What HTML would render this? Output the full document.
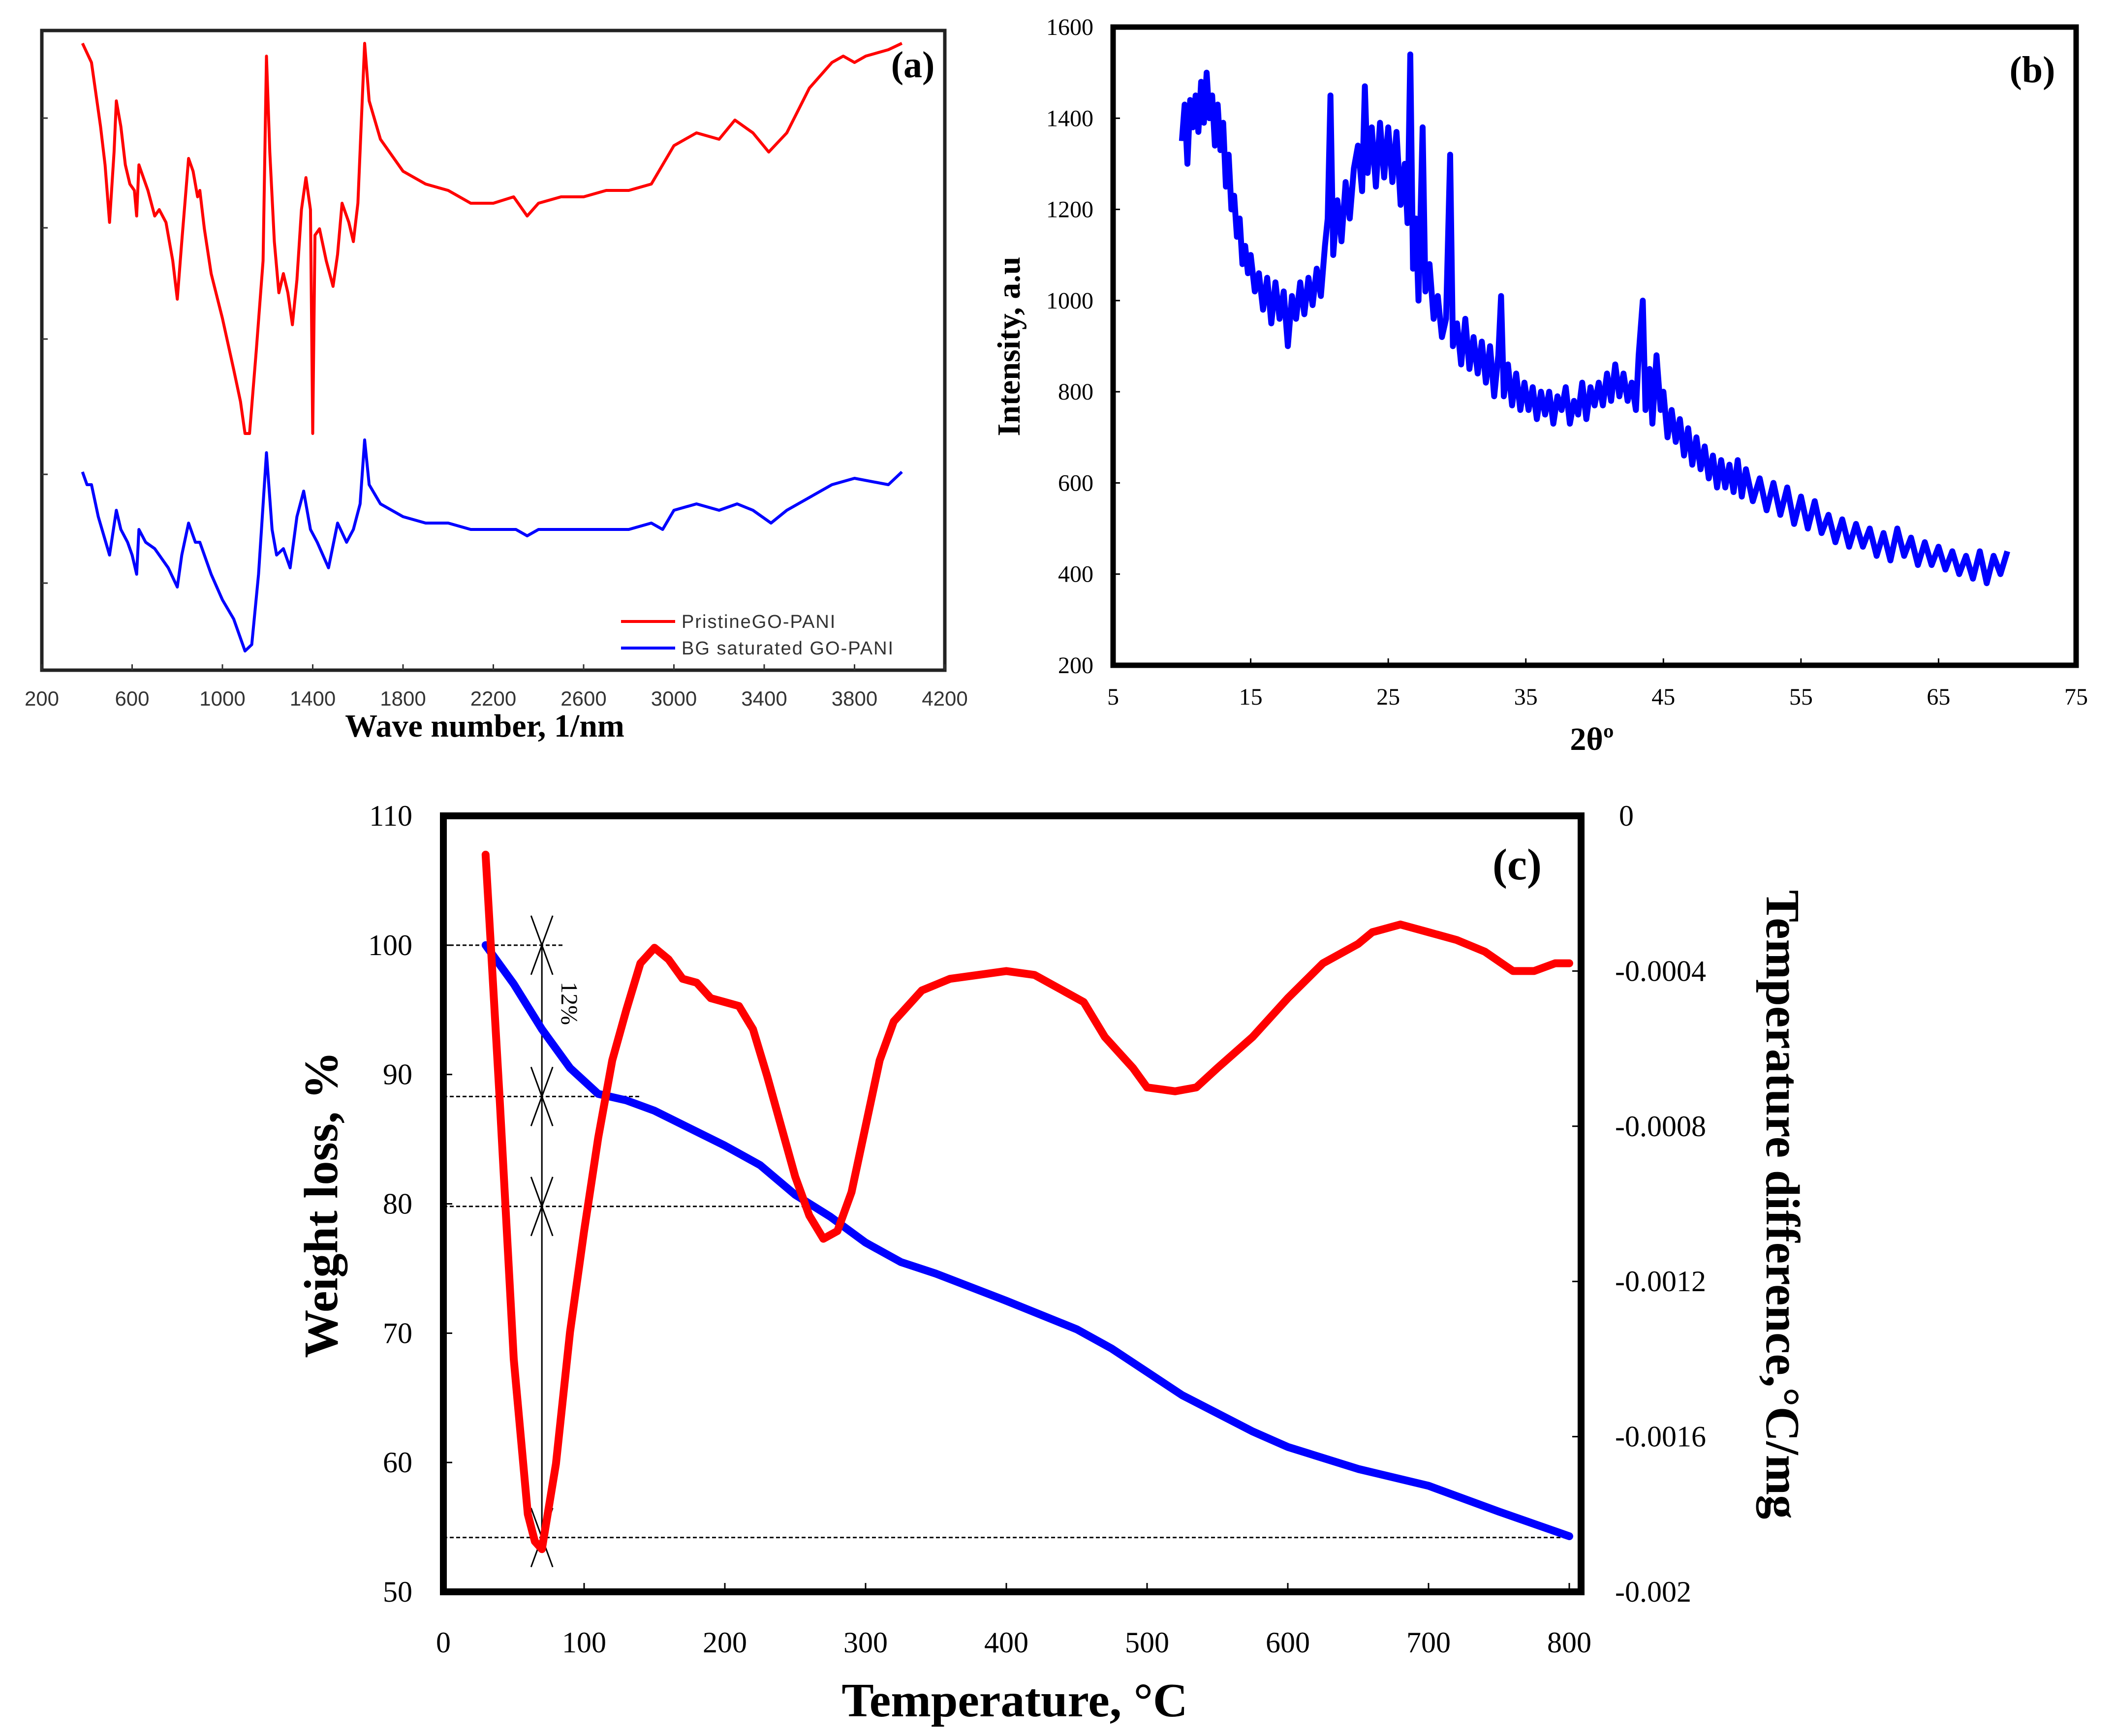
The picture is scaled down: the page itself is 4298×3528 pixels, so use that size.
<!DOCTYPE html>
<html><head><meta charset="utf-8"><style>
html,body{margin:0;padding:0;background:#fff;}
svg{display:block;}
</style></head><body>
<svg id="fig" xmlns="http://www.w3.org/2000/svg" width="4298" height="3528" viewBox="0 0 4298 3528">
<rect width="4298" height="3528" fill="#fff"/>
<g id="pa"></g>
<g id="pb"></g>
<g id="pc"></g>
</svg>
<script>
// ---------- Panel (a) FTIR data ----------
const ftirRedX=[380,420,460,480,500,520,530,550,570,590,610,620,630,650,670,700,720,750,780,800,820,850,870,890,900,920,950,1000,1050,1080,1100,1120,1150,1180,1195,1210,1230,1250,1270,1290,1310,1330,1350,1370,1390,1400,1410,1430,1460,1490,1510,1530,1560,1580,1600,1630,1650,1700,1800,1900,2000,2100,2200,2290,2350,2400,2500,2600,2700,2800,2900,3000,3100,3200,3270,3350,3420,3500,3600,3700,3750,3800,3850,3950,4010];
const ftirRedY=[98,95,85,79,70,81,89,85,79,76,75,71,79,77,75,71,72,70,64,58,67,80,78,74,75,69,62,55,47,42,37,37,50,64,96,81,67,59,62,59,54,61,72,77,72,37,68,69,64,60,65,73,70,67,73,98,89,83,78,76,75,73,73,74,71,73,74,74,75,75,76,82,84,83,86,84,81,84,91,95,96,95,96,97,98];
const ftirBlueX=[380,400,420,450,500,530,550,580,600,620,630,660,700,720,760,800,820,850,880,900,950,1000,1050,1100,1130,1160,1195,1220,1240,1270,1300,1330,1360,1390,1420,1470,1510,1550,1580,1610,1630,1650,1700,1800,1900,2000,2100,2300,2350,2400,2600,2800,2900,2950,3000,3100,3200,3280,3350,3430,3500,3600,3700,3800,3950,4010];
const ftirBlueY=[31,29,29,24,18,25,22,20,18,15,22,20,19,18,16,13,18,23,20,20,15,11,8,3,4,15,34,22,18,19,16,24,28,22,20,16,23,20,22,26,36,29,26,24,23,23,22,22,21,22,22,22,23,22,25,26,25,26,25,23,25,27,29,30,29,31];
const ftirTicks=[200,600,1000,1400,1800,2200,2600,3000,3400,3800,4200];

// ---------- Panel (b) XRD data ----------
const xrdX=[10,10.2,10.4,10.6,10.8,11,11.2,11.4,11.6,11.8,12,12.2,12.4,12.6,12.8,13,13.2,13.4,13.6,13.8,14,14.2,14.4,14.6,14.8,15,15.3,15.6,15.9,16.2,16.5,16.8,17.1,17.4,17.7,18,18.3,18.6,18.9,19.2,19.5,19.8,20.1,20.4,20.6,20.8,21,21.3,21.6,21.9,22.2,22.5,22.8,23.1,23.3,23.5,23.8,24.1,24.4,24.7,25,25.3,25.6,25.9,26.2,26.4,26.6,26.8,27,27.2,27.5,27.7,28,28.3,28.6,28.9,29.2,29.5,29.7,30,30.3,30.6,30.9,31.2,31.5,31.8,32.1,32.4,32.7,33,33.2,33.4,33.7,34,34.3,34.6,34.9,35.2,35.5,35.8,36.1,36.4,36.7,37,37.3,37.6,37.9,38.2,38.5,38.8,39.1,39.4,39.7,40,40.3,40.6,40.9,41.2,41.5,41.8,42.1,42.4,42.7,43,43.2,43.5,43.7,44,44.2,44.5,44.8,45,45.3,45.6,45.9,46.2,46.5,46.8,47.1,47.4,47.7,48,48.3,48.6,48.9,49.2,49.5,49.8,50.1,50.4,50.7,51,51.5,52,52.5,53,53.5,54,54.5,55,55.5,56,56.5,57,57.5,58,58.5,59,59.5,60,60.5,61,61.5,62,62.5,63,63.5,64,64.5,65,65.5,66,66.5,67,67.5,68,68.5,69,69.5,70];
const xrdY=[1350,1430,1300,1440,1380,1450,1370,1480,1390,1500,1400,1450,1340,1430,1330,1390,1250,1320,1200,1230,1140,1180,1080,1120,1060,1100,1020,1060,980,1050,950,1040,960,1020,900,1010,960,1040,970,1050,990,1070,1010,1120,1180,1450,1100,1220,1130,1260,1180,1290,1340,1240,1470,1280,1380,1250,1390,1270,1380,1260,1370,1210,1300,1170,1540,1070,1180,1000,1380,1020,1080,960,1010,920,960,1320,900,950,860,960,850,920,840,910,820,900,790,880,1010,790,860,770,840,760,820,760,810,740,800,750,800,730,790,760,810,730,780,750,820,740,810,770,820,770,840,780,860,790,840,780,820,760,880,1000,760,850,730,880,760,800,700,760,690,740,660,720,640,700,630,680,610,660,590,650,590,640,580,650,570,630,560,610,540,600,530,590,510,570,500,560,490,530,470,520,460,510,460,500,440,490,430,500,440,480,420,470,420,460,410,450,400,440,390,450,380,440,400,450];
const xrdXTicks=[5,15,25,35,45,55,65,75];
const xrdYTicks=[200,400,600,800,1000,1200,1400,1600];

// ---------- Panel (c) TGA/DTA data ----------
const tgaT=[30,50,70,90,110,130,150,200,225,250,275,300,325,350,400,450,475,500,525,550,575,600,650,700,750,800];
const tgaW=[100,97,93.5,90.5,88.5,88,87.2,84.5,83,80.7,79,77,75.5,74.6,72.5,70.3,68.8,67,65.2,63.8,62.4,61.2,59.5,58.2,56.2,54.3];
const dtaT=[30,40,50,60,65,70,80,90,100,110,120,130,140,150,160,170,180,190,200,210,220,230,240,250,260,270,280,290,300,310,320,340,360,380,400,420,440,455,470,490,500,520,535,550,575,600,625,650,660,680,700,720,740,760,775,790,800];
const dtaV=[-0.0001,-0.00073,-0.0014,-0.0018,-0.00187,-0.00189,-0.00167,-0.00133,-0.00107,-0.00083,-0.00063,-0.0005,-0.00038,-0.00034,-0.00037,-0.00042,-0.00043,-0.00047,-0.00048,-0.00049,-0.00055,-0.00067,-0.0008,-0.00093,-0.00103,-0.00109,-0.00107,-0.00097,-0.0008,-0.00063,-0.00053,-0.00045,-0.00042,-0.00041,-0.0004,-0.00041,-0.00045,-0.00048,-0.00057,-0.00065,-0.0007,-0.00071,-0.0007,-0.00065,-0.00057,-0.00047,-0.00038,-0.00033,-0.0003,-0.00028,-0.0003,-0.00032,-0.00035,-0.0004,-0.0004,-0.00038,-0.00038];
const tgaXTicks=[0,100,200,300,400,500,600,700,800];
const tgaYTicks=[50,60,70,80,90,100,110];
const dtaYTicks=["0","-0.0004","-0.0008","-0.0012","-0.0016","-0.002"];
const dtaYVals=[0,-0.0004,-0.0008,-0.0012,-0.0016,-0.002];
const stepLevels=[100,88.3,79.8,54.2];
const stepEnds=[85,140,265,800];

const NS="http://www.w3.org/2000/svg";
function mk(parent,tag,attrs,text){const e=document.createElementNS(NS,tag);for(const k in attrs)e.setAttribute(k,attrs[k]);if(text!==undefined)e.textContent=text;parent.appendChild(e);return e;}
function lin(d0,d1,r0,r1){return v=>r0+(v-d0)/(d1-d0)*(r1-r0);}
function pathD(xs,ys,fx,fy){return xs.map((x,i)=>(i?'L':'M')+fx(x).toFixed(1)+','+fy(ys[i]).toFixed(1)).join('');}

// ===== Panel a =====
(function(){
const g=document.getElementById('pa');
const L=85,R=1920,T=62,B=1362;
const fx=lin(200,4200,L,R), fy=lin(0,100,B,T);
const box=mk(g,'rect',{x:L,y:T,width:R-L,height:B-T,fill:'none',stroke:'#222',"stroke-width":7});


[240,463,689,964,1185].forEach(y=>{const t=mk(g,'line',{x1:L,x2:L+12,y1:y,y2:y,stroke:'#333',"stroke-width":3});});
ftirTicks.forEach(v=>{
 const t=mk(g,'line',{x1:fx(v),x2:fx(v),y1:B,y2:B-12,stroke:'#333',"stroke-width":3});
 
 
 const l=mk(g,'text',{x:fx(v),y:1434,"text-anchor":"middle","font-family":"Liberation Sans, sans-serif","font-size":42,fill:'#333'},v);
 
 
});
const r=mk(g,'path',{d:pathD(ftirRedX,ftirRedY,fx,fy),fill:'none',stroke:'#ff0000',"stroke-width":6,"stroke-linejoin":"round"});


const b=mk(g,'path',{d:pathD(ftirBlueX,ftirBlueY,fx,fy),fill:'none',stroke:'#0000ff',"stroke-width":6,"stroke-linejoin":"round"});


const xt=mk(g,'text',{x:985,y:1497,"text-anchor":"middle","font-family":"Liberation Serif, serif","font-weight":"bold","font-size":66},'Wave number, 1/nm');


const pl=mk(g,'text',{x:1855,y:157,"text-anchor":"middle","font-family":"Liberation Serif, serif","font-weight":"bold","font-size":76},'(a)');


const lg=mk(g,'g',{});


const l1=mk(lg,'line',{x1:1262,x2:1372,y1:1263,y2:1263,stroke:'#ff0000',"stroke-width":6});


const t1=mk(lg,'text',{x:1385,y:1276,"font-family":"Liberation Sans, sans-serif","font-size":38,fill:'#333',"letter-spacing":"2"},'PristineGO-PANI');


const l2=mk(lg,'line',{x1:1262,x2:1372,y1:1317,y2:1317,stroke:'#0000ff',"stroke-width":6});


const t2=mk(lg,'text',{x:1385,y:1330,"font-family":"Liberation Sans, sans-serif","font-size":38,fill:'#333',"letter-spacing":"2"},'BG saturated GO-PANI');


})();

// ===== Panel b =====
(function(){
const g=document.getElementById('pb');
const L=2262,R=4219,T=55,B=1352;
const fx=lin(5,75,L,R), fy=lin(200,1600,B,T);
const d=mk(g,'path',{d:pathD(xrdX,xrdY,fx,fy),fill:'none',stroke:'#0000ff',"stroke-width":12,"stroke-linejoin":"round"});


const box=mk(g,'rect',{x:L,y:T,width:R-L,height:B-T,fill:'none',stroke:'#000',"stroke-width":11});


xrdXTicks.forEach(v=>{
 const t=mk(g,'line',{x1:fx(v),x2:fx(v),y1:B,y2:B-14,stroke:'#000',"stroke-width":3});
 
 
 const l=mk(g,'text',{x:fx(v),y:1432,"text-anchor":"middle","font-family":"Liberation Serif, serif","font-size":48},v);
 
 
});
xrdYTicks.forEach(v=>{
 const t=mk(g,'line',{x1:L,x2:L+14,y1:fy(v),y2:fy(v),stroke:'#000',"stroke-width":3});
 
 
 const l=mk(g,'text',{x:2222,y:fy(v)+16,"text-anchor":"end","font-family":"Liberation Serif, serif","font-size":48},v);
 
 
});
const xt=mk(g,'text',{x:3235,y:1524,"text-anchor":"middle","font-family":"Liberation Serif, serif","font-weight":"bold","font-size":66},'2θº');


const yt=mk(g,'text',{x:0,y:0,transform:'translate(2072,704) rotate(-90)',"text-anchor":"middle","font-family":"Liberation Serif, serif","font-weight":"bold","font-size":66},'Intensity, a.u');


const pl=mk(g,'text',{x:4130,y:167,"text-anchor":"middle","font-family":"Liberation Serif, serif","font-weight":"bold","font-size":76},'(b)');


})();

// ===== Panel c =====
(function(){
const g=document.getElementById('pc');
const L=901,R=3213,T=1658,B=3235;
const fx=lin(0,800,L,3189), fy=lin(50,110,B,T), fy2=lin(-0.002,0,B,T);
stepLevels.forEach((v,i)=>{
 const a=mk(g,'line',{x1:L,x2:fx(stepEnds[i]),y1:fy(v),y2:fy(v),stroke:'#000',"stroke-width":3,"stroke-dasharray":"8,5"});
 
 
});
const ax=fx(70);
const vl=mk(g,'line',{x1:ax,x2:ax,y1:fy(100),y2:fy(54.2),stroke:'#000',"stroke-width":3});


stepLevels.forEach(v=>{
 const y=fy(v);
 const ar=mk(g,'path',{d:`M${ax-22},${y+60}L${ax},${y}L${ax+22},${y+60}M${ax-22},${y-60}L${ax},${y}L${ax+22},${y-60}`,fill:'none',stroke:'#000',"stroke-width":3});
 
 
});
const pct=mk(g,'text',{x:0,y:0,transform:`translate(${ax+40},${fy(95.5)}) rotate(90)`,"text-anchor":"middle","font-family":"Liberation Serif, serif","font-size":48},'12%');


const b=mk(g,'path',{d:pathD(tgaT,tgaW,fx,fy),fill:'none',stroke:'#0000ff',"stroke-width":16,"stroke-linejoin":"round","stroke-linecap":"round"});


const r=mk(g,'path',{d:pathD(dtaT,dtaV,fx,fy2),fill:'none',stroke:'#ff0000',"stroke-width":16,"stroke-linejoin":"round","stroke-linecap":"round"});


const box=mk(g,'rect',{x:L,y:T,width:R-L,height:B-T,fill:'none',stroke:'#000',"stroke-width":14});


tgaXTicks.forEach(v=>{
 const t=mk(g,'line',{x1:fx(v),x2:fx(v),y1:B,y2:B-18,stroke:'#000',"stroke-width":3});
 
 
 const l=mk(g,'text',{x:fx(v),y:3358,"text-anchor":"middle","font-family":"Liberation Serif, serif","font-size":60},v);
 
 
});
tgaYTicks.forEach(v=>{
 const t=mk(g,'line',{x1:L,x2:L+18,y1:fy(v),y2:fy(v),stroke:'#000',"stroke-width":3});
 
 
 const l=mk(g,'text',{x:838,y:fy(v)+20,"text-anchor":"end","font-family":"Liberation Serif, serif","font-size":60},v);
 
 
});
dtaYVals.forEach((v,i)=>{
 const t=mk(g,'line',{x1:R,x2:R-18,y1:fy2(v),y2:fy2(v),stroke:'#000',"stroke-width":3});
 
 
 const l=mk(g,'text',{x:i==0?3290:3282,y:fy2(v)+20,"text-anchor":"start","font-family":"Liberation Serif, serif","font-size":60},dtaYTicks[i]);
 
 
});
const xt=mk(g,'text',{x:2062,y:3488,"text-anchor":"middle","font-family":"Liberation Serif, serif","font-weight":"bold","font-size":98},'Temperature, °C');


const yt=mk(g,'text',{x:0,y:0,transform:'translate(685,2448) rotate(-90)',"text-anchor":"middle","font-family":"Liberation Serif, serif","font-weight":"bold","font-size":98},'Weight loss, %');


const yt2=mk(g,'text',{x:0,y:0,transform:'translate(3590,2448) rotate(90)',"text-anchor":"middle","font-family":"Liberation Serif, serif","font-weight":"bold","font-size":98},'Temperature difference,°C/mg');


const pl=mk(g,'text',{x:3083,y:1787,"text-anchor":"middle","font-family":"Liberation Serif, serif","font-weight":"bold","font-size":90},'(c)');


})();
</script>
</body></html>
